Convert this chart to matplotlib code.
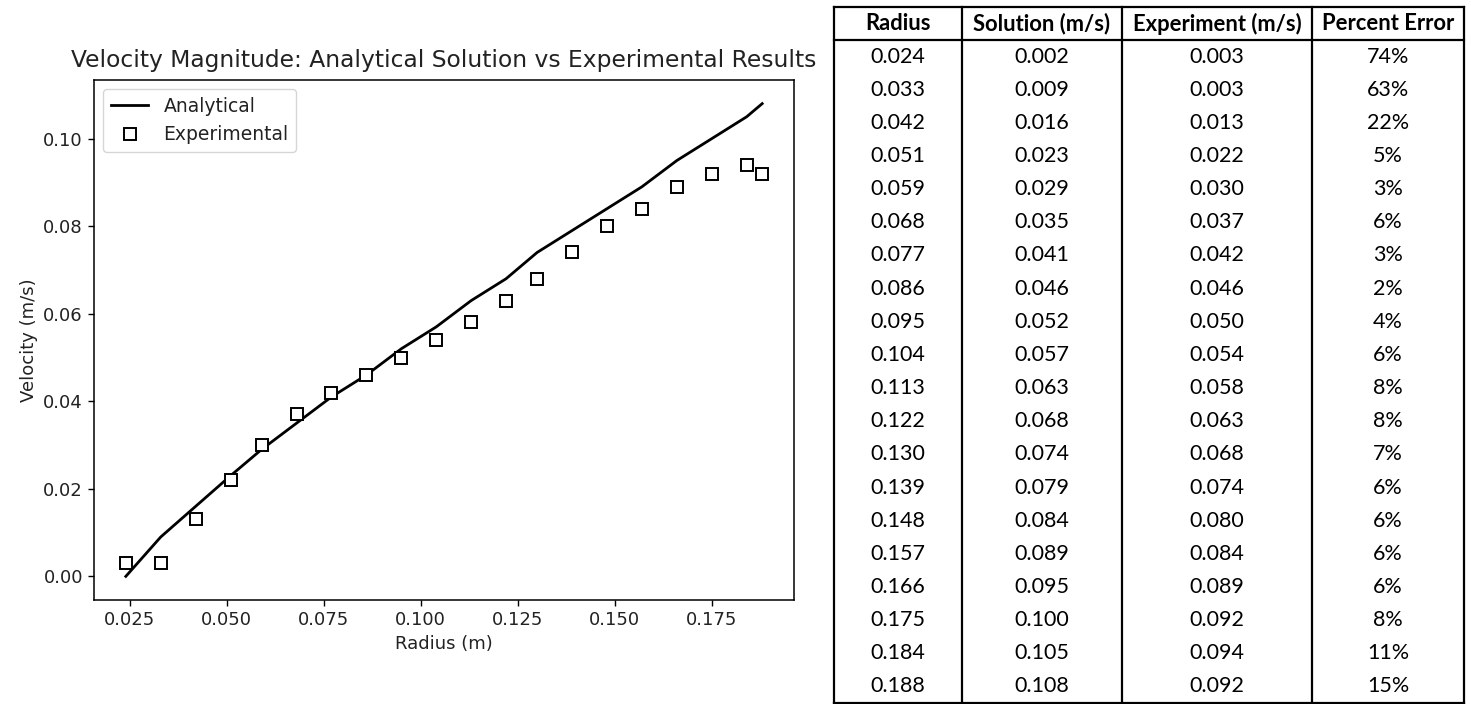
import matplotlib
matplotlib.use("Agg")
import matplotlib.pyplot as plt
from matplotlib.lines import Line2D

# ---------------- data ----------------
radius = [0.024, 0.033, 0.042, 0.051, 0.059, 0.068, 0.077, 0.086, 0.095, 0.104,
          0.113, 0.122, 0.130, 0.139, 0.148, 0.157, 0.166, 0.175, 0.184, 0.188]
analytical = [0.000, 0.009, 0.016, 0.023, 0.029, 0.035, 0.041, 0.046, 0.052, 0.057,
              0.063, 0.068, 0.074, 0.079, 0.084, 0.089, 0.095, 0.100, 0.105, 0.108]
experimental = [0.003, 0.003, 0.013, 0.022, 0.030, 0.037, 0.042, 0.046, 0.050, 0.054,
                0.058, 0.063, 0.068, 0.074, 0.080, 0.084, 0.089, 0.092, 0.094, 0.092]

table_header = ["Radius", "Solution (m/s)", "Experiment (m/s)", "Percent Error"]
table_radius = ["0.024", "0.033", "0.042", "0.051", "0.059", "0.068", "0.077", "0.086",
                "0.095", "0.104", "0.113", "0.122", "0.130", "0.139", "0.148", "0.157",
                "0.166", "0.175", "0.184", "0.188"]
table_solution = ["0.002", "0.009", "0.016", "0.023", "0.029", "0.035", "0.041", "0.046",
                  "0.052", "0.057", "0.063", "0.068", "0.074", "0.079", "0.084", "0.089",
                  "0.095", "0.100", "0.105", "0.108"]
table_experiment = ["0.003", "0.003", "0.013", "0.022", "0.030", "0.037", "0.042", "0.046",
                    "0.050", "0.054", "0.058", "0.063", "0.068", "0.074", "0.080", "0.084",
                    "0.089", "0.092", "0.094", "0.092"]
table_error = ["74%", "63%", "22%", "5%", "3%", "6%", "3%", "2%", "4%", "6%",
               "8%", "8%", "7%", "6%", "6%", "6%", "6%", "8%", "11%", "15%"]

# ---------------- figure ----------------
W, H = 1471, 704
fig = plt.figure(figsize=(W / 100, H / 100), dpi=100)
fig.patch.set_facecolor("white")

def fx(px):
    return px / W

def fy(py):
    return 1 - py / H

ax = fig.add_axes([fx(94), fy(600), fx(794) - fx(94), fy(80) - fy(600)])
ax.plot(radius, analytical, color="black", lw=2.0, label="Analytical")
ax.plot(radius, experimental, linestyle="none", marker="s", ms=8.5,
        mfc="white", mec="black", mew=1.4, label="Experimental")
ax.set_title("Velocity Magnitude: Analytical Solution vs Experimental Results",
             fontsize=16.8, pad=9, color="#222222")
ax.set_xlabel("Radius (m)", fontsize=13, color="#222222")
ax.set_ylabel("Velocity (m/s)", fontsize=13, color="#222222")
ax.set_xticks([0.025, 0.050, 0.075, 0.100, 0.125, 0.150, 0.175])
ax.set_yticks([0.00, 0.02, 0.04, 0.06, 0.08, 0.10])
ax.tick_params(labelsize=13, length=4.5, width=1.0, labelcolor="#222222")
for s in ax.spines.values():
    s.set_linewidth(1.1)
leg = ax.legend(loc="upper left", fontsize=13.5, frameon=True)
for t in leg.get_texts():
    t.set_color("#222222")

# ---------------- table ----------------
col_edges = [834, 962, 1122, 1312, 1464]
top, header_bottom, bottom = 7, 40, 703
row_h = (bottom - header_bottom) / len(table_radius)

lw = 1.6
for x in col_edges:
    fig.add_artist(Line2D([fx(x), fx(x)], [fy(top), fy(bottom)], color="black",
                          lw=lw, transform=fig.transFigure))
for y in (top, header_bottom, bottom):
    fig.add_artist(Line2D([fx(col_edges[0]), fx(col_edges[-1])], [fy(y), fy(y)],
                          color="black", lw=lw, transform=fig.transFigure))

tfont = "Lato"
for j, h in enumerate(table_header):
    cx = (col_edges[j] + col_edges[j + 1]) / 2
    fig.text(fx(cx), fy((top + header_bottom) / 2), h, ha="center", va="center",
             fontsize=15.8, fontweight="bold", family=tfont)

columns = [table_radius, table_solution, table_experiment, table_error]
for j, col in enumerate(columns):
    cx = (col_edges[j] + col_edges[j + 1]) / 2
    for i, val in enumerate(col):
        cy = header_bottom + (i + 0.5) * row_h
        fig.text(fx(cx), fy(cy), val, ha="center", va="center",
                 fontsize=15.5, family=tfont)

fig.savefig("out.png", dpi=100)
